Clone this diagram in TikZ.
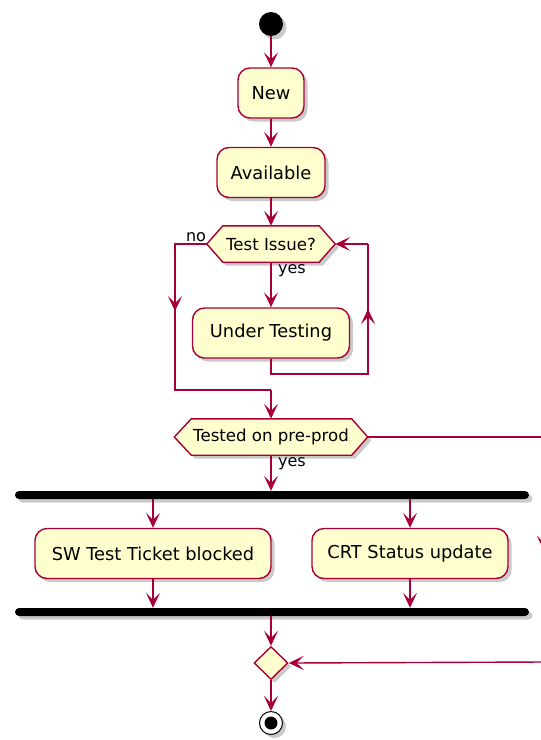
\documentclass[tikz,border=0pt]{standalone}
\usepackage{fontspec}
\setmainfont{DejaVu Sans}
\usetikzlibrary{arrows.meta,shadows,shapes.geometric,backgrounds,calc}
\definecolor{puborder}{HTML}{A80036}
\definecolor{pufill}{HTML}{FEFECE}
\tikzset{
 shad/.style={drop shadow={shadow xshift=3.5pt,shadow yshift=-3.5pt,opacity=0.35,fill=black!60}},
 act/.style={draw=puborder, fill=pufill, line width=1.4pt, rounded corners=12pt, minimum height=50pt, inner sep=0pt, font=\fontsize{17.8}{20}\selectfont, shad},
 hextext/.style={inner sep=0pt, font=\fontsize{16.6}{19}\selectfont},
 hexbox/.style={draw=puborder, fill=pufill, line width=1.4pt, shad},
 lbl/.style={inner sep=0pt, font=\fontsize{16}{19}\selectfont},
 flow/.style={draw=puborder, line width=1.4pt, -{Stealth[length=15pt,width=14pt,inset=7pt]}},
 conn/.style={draw=puborder, line width=1.4pt},
 barbox/.style={draw=none, fill=black, rounded corners=4pt, minimum height=8pt, inner sep=0pt, shad},
}
\begin{document}
\begin{tikzpicture}[x=1pt,y=-1pt]
\useasboundingbox (0,0) rectangle (541,740);
\clip (0,0) rectangle (541,740);
% nodes
\node[circle, fill=black, minimum size=24pt, inner sep=0pt, shad] (start) at (271,24) {};
\node[act, minimum width=66pt] (new) at (271,93) {New};
\node[act, minimum width=108pt] (avail) at (271,172.5) {Available};
\node[hextext, minimum width=128pt, minimum height=36pt] (ti) at (271,244) {Test Issue?};
\node[act, minimum width=157pt] (ut) at (271,333) {Under Testing};
\node[hextext, minimum width=193pt, minimum height=36pt] (tp) at (271,437) {Tested on pre-prod};
\node[barbox, minimum width=514pt] (fork) at (272,495) {};
\node[act, minimum width=236pt] (sw) at (153,553.5) {SW Test Ticket blocked};
\node[act, minimum width=196pt] (crt) at (410,553.5) {CRT Status update};
\node[barbox, minimum width=514pt] (join) at (272,612) {};
\node[diamond, draw=puborder, fill=pufill, line width=1.4pt, minimum width=34pt, minimum height=33pt, inner sep=0pt, shad] (mg) at (271,663) {};
\node[circle, draw=black, fill=white, line width=1pt, minimum size=23pt, inner sep=0pt, shad] (end) at (271,723) {};
\node[circle, fill=black, minimum size=13pt, inner sep=0pt] (endin) at (271,723) {};
% labels
\node[lbl] (no1) at (196,237) {no};
\node[lbl] (yes1) at (292,271) {yes};
\node[lbl] (yes2) at (292,464) {yes};
% hexagons
\begin{scope}[on background layer]
\draw[hexbox] (ti.west) -- ([xshift=16pt]ti.north west) -- ([xshift=-16pt]ti.north east) -- (ti.east) -- ([xshift=-16pt]ti.south east) -- ([xshift=16pt]ti.south west) -- cycle;
\draw[hexbox] (tp.west) -- ([xshift=17pt]tp.north west) -- ([xshift=-16pt]tp.north east) -- (tp.east) -- ([xshift=-16pt]tp.south east) -- ([xshift=17pt]tp.south west) -- cycle;
\end{scope}
% coordinates
\coordinate (lb) at (368,374);
\coordinate (lt) at (368,244);
\coordinate (nt) at (175,244);
\coordinate (nb) at (175,390);
\coordinate (mj) at (271,390);
\coordinate (re1) at (544,437);
\coordinate (re2) at (544,551);
\coordinate (re4) at (544,600);
\coordinate (re3) at (544,662);
% connectors
\draw[flow] (start) -- (new);
\draw[flow] (new) -- (avail);
\draw[flow] (avail) -- (ti);
\draw[flow] (ti) -- (ut);
\draw[conn] (ut.south) |- (lb) -- (lt);
\draw[flow] (lb) -- ($(lb)!0.5!(lt)$);
\draw[flow] (lt) -- (ti.east);
\draw[conn] (ti.west) -- (nt) -- (nb) -- (mj);
\draw[flow] (nt) -- ($(nt)!0.46!(nb)$);
\draw[flow] (mj) -- (tp);
\draw[conn] (tp.east) -- (re1);
\draw[flow] (re1) -- (re2);
\draw[flow] (tp) -- (tp |- fork.north);
\draw[flow] (sw |- fork.south) -- (sw.north);
\draw[flow] (crt |- fork.south) -- (crt.north);
\draw[flow] (sw) -- (sw |- join.north);
\draw[flow] (crt) -- (crt |- join.north);
\draw[flow] (mg |- join.south) -- (mg.north);
\draw[conn] (re4) -- (re3);
\draw[flow] (re3) -- (mg.east);
\draw[flow] (mg) -- (end);
\end{tikzpicture}
\end{document}
